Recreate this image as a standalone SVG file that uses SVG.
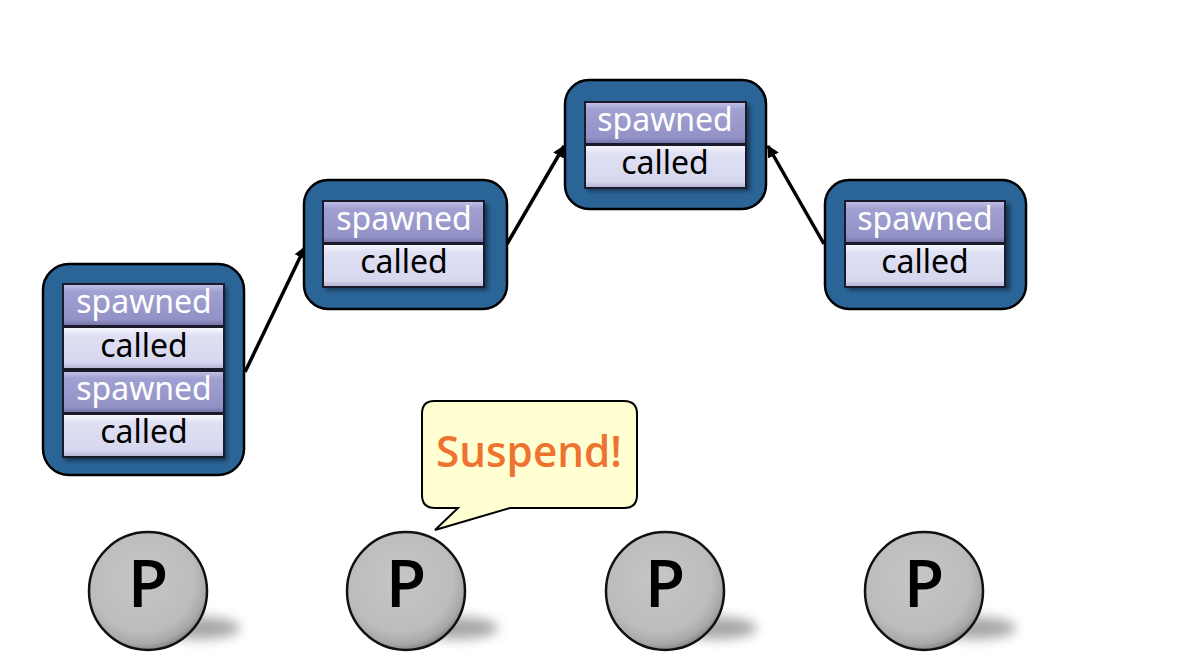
<svg xmlns="http://www.w3.org/2000/svg" width="1178" height="670" viewBox="0 0 1178 670">
<style>
.box{fill:#2b6496;stroke:#000;stroke-width:2.5}
.sp{fill:url(#gsp);stroke:#1a1a2a;stroke-width:2}
.ca{fill:url(#gca);stroke:#1a1a2a;stroke-width:2}
.tsp{font-family:"Noto Sans",sans-serif;font-size:32px;fill:#fff;text-anchor:middle}
.tca{font-family:"Noto Sans",sans-serif;font-size:32px;fill:#000;text-anchor:middle}
.edge{stroke:#000;stroke-width:3.5;fill:none;marker-end:url(#ah)}
.pc{fill:url(#gp);stroke:#111;stroke-width:2.5}
.pt{font-family:"Open Sans","Noto Sans",sans-serif;font-weight:600;font-size:66px;fill:#000;text-anchor:middle}
.shd{fill:#8a8a8a;opacity:0.75;filter:url(#blur)}
</style>
<defs>
<linearGradient id="gsp" x1="0" y1="0" x2="0" y2="1">
<stop offset="0" stop-color="#c4c4ea"/><stop offset="0.18" stop-color="#a0a0d2"/><stop offset="0.85" stop-color="#9292c6"/><stop offset="1" stop-color="#7070a4"/>
</linearGradient>
<linearGradient id="gca" x1="0" y1="0" x2="0" y2="1">
<stop offset="0" stop-color="#fafaff"/><stop offset="0.2" stop-color="#e0e0f4"/><stop offset="0.85" stop-color="#d6d6ee"/><stop offset="1" stop-color="#b0b0d0"/>
</linearGradient>
<radialGradient id="gp" cx="0.45" cy="0.4" r="0.6">
<stop offset="0" stop-color="#c6c6c6"/><stop offset="0.75" stop-color="#bcbcbc"/><stop offset="0.92" stop-color="#a8a8a8"/><stop offset="1" stop-color="#888"/>
</radialGradient>
<filter id="bsh" x="-10%" y="-10%" width="130%" height="130%"><feGaussianBlur stdDeviation="2"/></filter>
<filter id="blur" x="-50%" y="-50%" width="200%" height="200%"><feGaussianBlur stdDeviation="6"/></filter>
<marker id="ah" viewBox="0 0 10 10" refX="9" refY="5" markerWidth="3.5" markerHeight="3.5" orient="auto" markerUnits="strokeWidth">
<path d="M0,0 L10,5 L0,10 z" fill="#000"/>
</marker>
</defs>
<rect width="1178" height="670" fill="#fff"/>

<g id="connectors">
<line class="edge" x1="245" y1="372" x2="305" y2="247"/>
<line class="edge" x1="507" y1="244" x2="564" y2="146"/>
<line class="edge" x1="824" y1="244" x2="768" y2="146"/>
</g>

<g id="stack1">
<rect class="box" x="43" y="264" width="201" height="211" rx="26"/>
<rect x="65" y="287" width="162" height="174" fill="#000" opacity="0.45" filter="url(#bsh)"/>
<rect class="sp" x="63" y="284" width="161" height="42"/>
<rect class="ca" x="63" y="327" width="161" height="42"/>
<rect class="sp" x="63" y="371" width="161" height="42"/>
<rect class="ca" x="63" y="414" width="161" height="43"/>
<text class="tsp" x="144" y="313">spawned</text>
<text class="tca" x="144" y="357">called</text>
<text class="tsp" x="144" y="400">spawned</text>
<text class="tca" x="144" y="443">called</text>
</g>

<g id="stack2">
<rect class="box" x="304" y="180" width="203" height="129" rx="24"/>
<rect x="326" y="204" width="162" height="86" fill="#000" opacity="0.45" filter="url(#bsh)"/>
<rect class="sp" x="323" y="201" width="161" height="42"/>
<rect class="ca" x="323" y="244" width="161" height="43"/>
<text class="tsp" x="404" y="230">spawned</text>
<text class="tca" x="404" y="273">called</text>
</g>

<g id="stack3">
<rect class="box" x="565" y="80" width="201" height="129" rx="24"/>
<rect x="588" y="105" width="162" height="86" fill="#000" opacity="0.45" filter="url(#bsh)"/>
<rect class="sp" x="585" y="102" width="161" height="42"/>
<rect class="ca" x="585" y="145" width="161" height="43"/>
<text class="tsp" x="665" y="131">spawned</text>
<text class="tca" x="665" y="174">called</text>
</g>

<g id="stack4">
<rect class="box" x="825" y="180" width="201" height="129" rx="24"/>
<rect x="848" y="204" width="162" height="86" fill="#000" opacity="0.45" filter="url(#bsh)"/>
<rect class="sp" x="845" y="201" width="160" height="42"/>
<rect class="ca" x="845" y="244" width="160" height="43"/>
<text class="tsp" x="925" y="230">spawned</text>
<text class="tca" x="925" y="273">called</text>
</g>

<g id="bubble">
<path d="M434,401 H624 Q637,401 637,414 V495 Q637,508 624,508 H510 L435,530 L458,508 H435 Q422,508 422,495 V414 Q422,401 434,401 Z" fill="#ffffd2" stroke="#000" stroke-width="2"/>
<text x="529" y="467" font-family="Open Sans, Noto Sans, sans-serif" font-weight="600" font-size="43" fill="#ee7330" text-anchor="middle" textLength="186" lengthAdjust="spacingAndGlyphs">Suspend!</text>
</g>

<g id="p1">
<ellipse class="shd" cx="200" cy="628" rx="40" ry="11"/>
<circle class="pc" cx="148" cy="591" r="59"/>
<text class="pt" x="148" y="607">P</text>
</g>
<g id="p2">
<ellipse class="shd" cx="458" cy="628" rx="40" ry="11"/>
<circle class="pc" cx="406" cy="591" r="59"/>
<text class="pt" x="406" y="607">P</text>
</g>
<g id="p3">
<ellipse class="shd" cx="717" cy="628" rx="40" ry="11"/>
<circle class="pc" cx="665" cy="591" r="59"/>
<text class="pt" x="665" y="607">P</text>
</g>
<g id="p4">
<ellipse class="shd" cx="976" cy="628" rx="40" ry="11"/>
<circle class="pc" cx="924" cy="591" r="59"/>
<text class="pt" x="924" y="607">P</text>
</g>
</svg>
